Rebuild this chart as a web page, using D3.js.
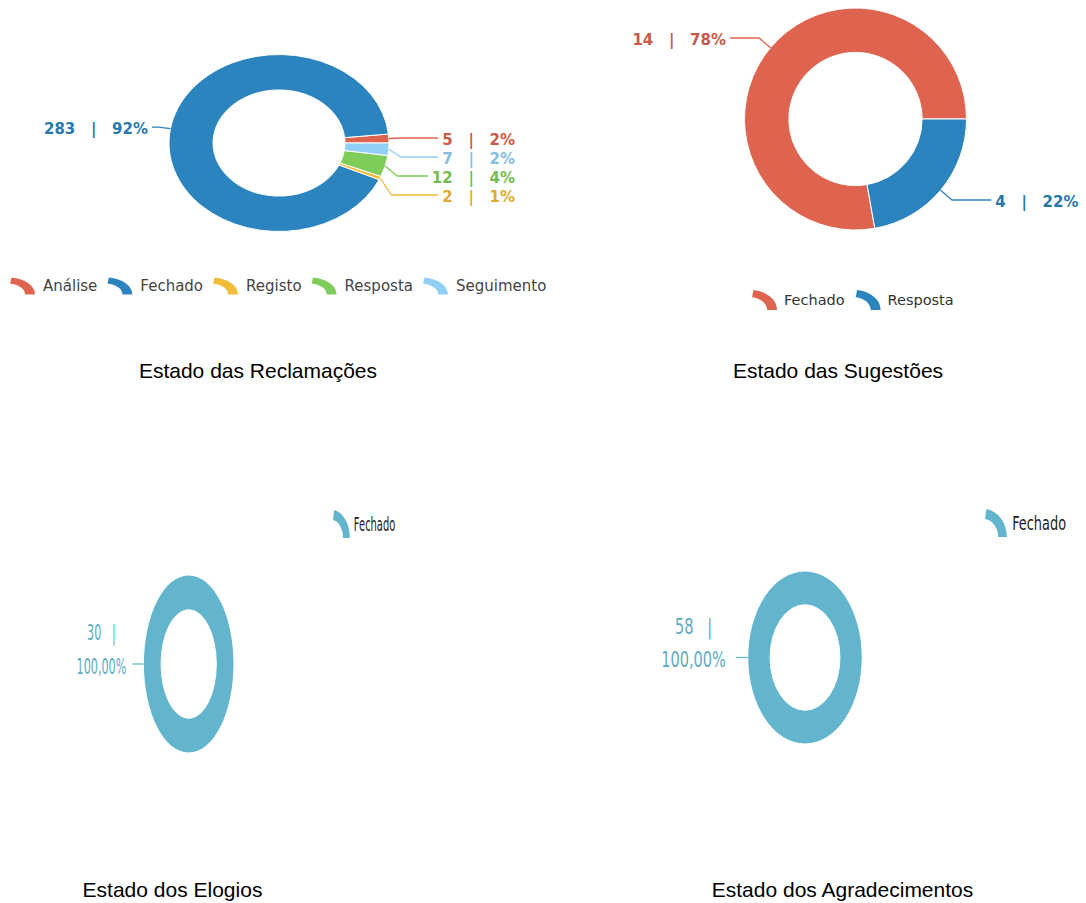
<!DOCTYPE html>
<html>
<head>
<meta charset="utf-8">
<script src="https://cdn.jsdelivr.net/npm/d3@7"></script>
<style>
  body { margin: 0; background: #fff; }
  text { white-space: pre; }
</style>
</head>
<body>
<div id="chart"></div>
<script>

// --------------------------------------------------------
// (1) Data
// --------------------------------------------------------

var reclamacoesCategories = ["Análise", "Fechado", "Registo", "Resposta", "Seguimento"]
var reclamacoesValues = [5, 283, 2, 12, 7]
var reclamacoesColors = ["#de6450", "#2c84be", "#f1bc3a", "#80cc5a", "#92cff4"]

var sugestoesCategories = ["Fechado", "Resposta"]
var sugestoesValues = [14, 4]
var sugestoesColors = ["#de6450", "#2c84be"]

var elogiosCategories = ["Fechado"]
var elogiosValues = [30]

var agradecimentosCategories = ["Fechado"]
var agradecimentosValues = [58]

var fechadoColor = ["#62b5cc"]

var titles = ["Estado das Reclamações", "Estado das Sugestões", "Estado dos Elogios", "Estado dos Agradecimentos"]


// --------------------------------------------------------
// (2) Formats and layout
// --------------------------------------------------------

var pct0 = p => Math.round(p * 100) + "%"
var ptLocale = d3.formatLocale({ decimal: ",", thousands: ".", grouping: [3], currency: ["", "€"] })
var pct2 = ptLocale.format(".2%")

// labels: left side text ends at padL from the ring, right side text ends at padR
var charts = [
  {
    title: titles[0], categories: reclamacoesCategories, values: reclamacoesValues, colors: reclamacoesColors,
    cx: 279, cy: 143, r: 88.5, sx: 1.243, squash: false, inner: 0.6,
    ext: 10, padL: 21, padR: 126, lineGap: 4, spacing: 19, darken: 0.25,
    labelSize: 15, labelWeight: "bold", lineHeight: 0,
    labelLines: d => [d.value + "   |   " + pct0(d.pct)],
    legend: { x: 10, y: 286, iconW: 25, iconH: 17, textGap: 8, itemGap: 10, size: 15, color: "#444" },
    titleX: 258, titleY: 378
  },
  {
    title: titles[1], categories: sugestoesCategories, values: sugestoesValues, colors: sugestoesColors,
    cx: 855.5, cy: 119, r: 111, sx: 1, squash: false, inner: 0.6,
    ext: 15, padL: 18.5, padR: 112, lineGap: 4, spacing: 19, darken: 0.3,
    labelSize: 15, labelWeight: "bold", lineHeight: 0,
    labelLines: d => [d.value + "   |   " + pct0(d.pct)],
    legend: { x: 752, y: 300, iconW: 25, iconH: 20, textGap: 7, itemGap: 11, size: 14.5, color: "#333" },
    titleX: 838, titleY: 378
  },
  {
    title: titles[2], categories: elogiosCategories, values: elogiosValues, colors: fechadoColor,
    cx: 188.7, cy: 664, r: 89, sx: 0.509, squash: true, inner: 0.61,
    ext: 21.6, padL: 33.6, padR: 120, lineGap: 12, spacing: 19, darken: 0.15,
    labelSize: 22, labelWeight: "normal", lineHeight: 34,
    labelLines: d => [d.value + "   |", pct2(d.pct)],
    legend: { x: 333, y: 524, iconW: 33, iconH: 28, textGap: 8, itemGap: 10, size: 19.5, color: "#222" },
    titleX: 172.5, titleY: 897
  },
  {
    title: titles[3], categories: agradecimentosCategories, values: agradecimentosValues, colors: fechadoColor,
    cx: 805, cy: 657.5, r: 86.5, sx: 0.662, squash: true, inner: 0.61,
    ext: 18, padL: 33, padR: 120, lineGap: 15, spacing: 19, darken: 0.15,
    labelSize: 22, labelWeight: "normal", lineHeight: 33,
    labelLines: d => [d.value + "   |", pct2(d.pct)],
    legend: { x: 985, y: 523, iconW: 33, iconH: 28, textGap: 8, itemGap: 10, size: 19.5, color: "#222" },
    titleX: 842.5, titleY: 897
  }
]

var svg = d3.select("#chart")
  .append("svg")
    .attr("width", 1086)
    .attr("height", 903)
    .style("background", "#fff")

// legend icon: a quarter ring, in a unit box
var iconArc = d3.arc().innerRadius(0.64).outerRadius(1).startAngle(0.15).endAngle(Math.PI / 2)

charts.forEach(drawDonut)


// --------------------------------------------------------
// (3) Donut
// --------------------------------------------------------

function drawDonut(c) {

  var data = c.categories.map((name, i) => ({ name: name, value: c.values[i], color: c.colors[i] }))
  var total = d3.sum(data, d => d.value)
  data.forEach(d => d.pct = d.value / total)

  // slices run counter-clockwise from 3 o'clock
  var pie = d3.pie().sort(null).value(d => d.value)
    .startAngle(Math.PI / 2).endAngle(Math.PI / 2 - 2 * Math.PI)
  var arcs = pie(data)

  var arc = d3.arc().innerRadius(c.r * c.inner).outerRadius(c.r)

  var gx = c.squash ? 1 : c.sx   // horizontal stretch of geometry inside the group
  var g = svg.append("g")
    .attr("transform", `translate(${c.cx},${c.cy}) scale(${c.squash ? c.sx : 1},1)`)

  g.append("g")
    .attr("transform", `scale(${gx},1)`)
    .selectAll("path")
    .data(arcs)
    .join("path")
      .attr("d", arc)
      .attr("fill", d => d.data.color)
      .attr("stroke", "#fff")
      .attr("stroke-width", 1)
      .attr("vector-effect", "non-scaling-stroke")

  // label positions
  var pt = (a, rad) => [gx * Math.sin(a) * rad, -Math.cos(a) * rad]
  var labels = arcs.map(d => {
    var mid = (d.startAngle + d.endAngle) / 2
    var kink = pt(mid, c.r + c.ext)
    var right = Math.sin(mid) > 0
    return { d: d, mid: mid, right: right, arcPt: pt(mid, c.r), kinkX: kink[0], y: kink[1],
             textX: right ? gx * c.r + c.padR : -(gx * c.r + c.padL) }
  })
  ;[true, false].forEach(side => {
    var s = labels.filter(l => l.right === side).sort((a, b) => a.y - b.y)
    for (var i = 1; i < s.length; i++) s[i].y = Math.max(s[i].y, s[i - 1].y + c.spacing)
  })

  labels.forEach(l => {
    var col = d3.color(l.d.data.color).darker(c.darken).formatHex()
    var lines = c.labelLines(l.d.data)
    var t = g.append("text")
      .attr("fill", col)
      .attr("font-family", "'DejaVu Sans', Verdana, sans-serif")
      .attr("font-size", c.labelSize)
      .attr("font-weight", c.labelWeight)
      .attr("text-anchor", lines.length === 1 ? "end" : "middle")
    var lastBase = l.y + c.labelSize * 0.45
    var spans = t.selectAll("tspan")
      .data(lines)
      .join("tspan")
        .attr("y", (s, i) => lastBase - (lines.length - 1 - i) * c.lineHeight)
        .text(s => s)
    var maxW = d3.max(spans.nodes(), n => n.getComputedTextLength())
    spans.attr("x", lines.length === 1 ? l.textX : l.textX - maxW / 2)

    // both sides end-aligned: the line stops just before the text
    var endX = l.right ? l.textX - maxW - c.lineGap : l.textX + c.lineGap
    g.insert("polyline", "text")
      .attr("points", [l.arcPt, [l.kinkX, l.y], [endX, l.y]].map(p => p.join(",")).join(" "))
      .attr("fill", "none")
      .attr("stroke", l.d.data.color)
      .attr("stroke-width", 1.3)
  })

  // legend
  var L = c.legend
  var lg = svg.append("g")
    .attr("transform", `translate(${L.x},${L.y}) scale(${c.squash ? c.sx : 1},1)`)
  var x = 0
  data.forEach(d => {
    lg.append("path")
      .attr("d", iconArc())
      .attr("fill", d.color)
      .attr("transform", `translate(${x - 0.093 * L.iconW / 0.907},${L.iconH / 2}) scale(${L.iconW / 0.907},${L.iconH / 0.989})`)
    var tx = lg.append("text")
      .attr("x", x + L.iconW + L.textGap)
      .attr("y", L.size * 0.35)
      .attr("font-family", "'DejaVu Sans', Verdana, sans-serif")
      .attr("font-size", L.size)
      .attr("fill", L.color)
      .text(d.name)
    x += L.iconW + L.textGap + tx.node().getComputedTextLength() + L.itemGap
  })

  // title
  svg.append("text")
    .attr("x", c.titleX)
    .attr("y", c.titleY)
    .attr("text-anchor", "middle")
    .attr("font-family", "'Liberation Sans', Arial, sans-serif")
    .attr("font-size", 21)
    .attr("fill", "#000")
    .text(c.title)
}

</script>
</body>
</html>
